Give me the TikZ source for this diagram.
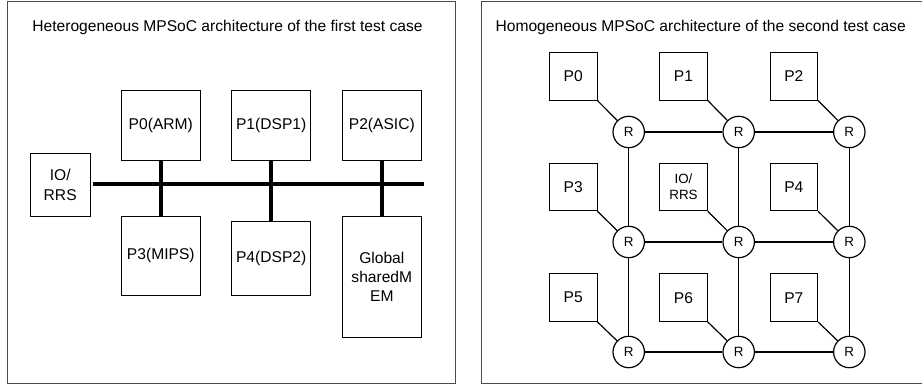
\documentclass[tikz,border=0pt]{standalone}
\usepackage{fontspec}
\setmainfont{Liberation Sans}
\tikzset{blk/.style={draw,line width=.8pt,inner sep=0,align=center},rtr/.style={draw,circle,line width=1.2pt,minimum size=31.4pt,inner sep=0,font=\fontsize{13.4}{16}\selectfont},bus/.style={line width=4pt},frm/.style={draw=black!70,line width=1pt},lnk/.style={line width=1.2pt}}
\begin{document}
\begin{tikzpicture}[x=1pt,y=-1pt,font=\fontsize{15.6}{19.5}\selectfont]
\useasboundingbox(0,0)rectangle(922,387);
\draw[frm](7,2)rectangle(455,384);\draw[frm](922,2)--(481,2)--(481,384)--(922,384);
\node(t1)at(227.5,27){Heterogeneous MPSoC architecture of the first test case};
\node(t2)at(700.7,27){Homogeneous MPSoC architecture of the second test case};
% first test case: shared bus
\node[blk,minimum width=59.7pt,minimum height=62.7pt](io)at(60.2,184.7){IO/\\RRS};
\begin{scope}[minimum width=79pt]\node[blk,minimum height=70.3pt](p0)at(160.8,125.2){P0(ARM)};\node[blk,minimum height=70.3pt](p1)at(271.2,125.2){P1(DSP1)};\node[blk,minimum height=70.3pt](p2)at(381.8,125.2){P2(ASIC)};
\node[blk,minimum height=79pt](p3)at(160.8,255.5){P3(MIPS)};\node[blk,minimum height=74pt](p4)at(271.2,258){P4(DSP2)};\node[blk,minimum height=121pt,font=\fontsize{15.6}{19}\selectfont](gm)at(381.8,276.5){Global\\sharedM\\EM};\end{scope}
\coordinate(busend)at(424.3,184);
\draw[bus]([xshift=2.7pt]io.east|-busend)--(busend);\draw[bus](p0)--(p3);\draw[bus](p1)--(p4);\draw[bus](p2)--(gm);
% second test case: 3x3 mesh
\begin{scope}[minimum size=47.7pt]\node[blk](q0)at(573.2,76.3){P0};\node[blk](q1)at(683.5,76.3){P1};\node[blk](q2)at(793.8,76.3){P2};
\node[blk](q3)at(573.2,187){P3};\node[blk,font=\fontsize{13.4}{16}\selectfont](qio)at(683.5,187){IO/\\RRS};\node[blk](q4)at(793.8,187){P4};
\node[blk](q5)at(573.2,297.7){P5};\node[blk](q6)at(683.5,297.7){P6};\node[blk](q7)at(793.8,297.7){P7};\end{scope}
\node[rtr](r11)at(628.7,132){R};\node[rtr](r12)at(738.7,132){R};\node[rtr](r13)at(849.3,132){R};
\node[rtr](r21)at(628.7,242){R};\node[rtr](r22)at(738.7,242){R};\node[rtr](r23)at(849.3,242){R};
\node[rtr](r31)at(628.7,352){R};\node[rtr](r32)at(738.7,352){R};\node[rtr](r33)at(849.3,352){R};
\draw[lnk](q0.south east)--(r11);\draw[lnk](q1.south east)--(r12);\draw[lnk](q2.south east)--(r13);\draw[lnk](q3.south east)--(r21);\draw[lnk](qio.south east)--(r22);\draw[lnk](q4.south east)--(r23);\draw[lnk](q5.south east)--(r31);\draw[lnk](q6.south east)--(r32);\draw[lnk](q7.south east)--(r33);
\draw[lnk](r11)--(r12)--(r13);\draw[lnk](r21)--(r22)--(r23);\draw[lnk](r31)--(r32)--(r33);
\draw[lnk](r11)--(r21)--(r31);\draw[lnk](r12)--(r22)--(r32);\draw[lnk](r13)--(r23)--(r33);
\end{tikzpicture}
\end{document}
